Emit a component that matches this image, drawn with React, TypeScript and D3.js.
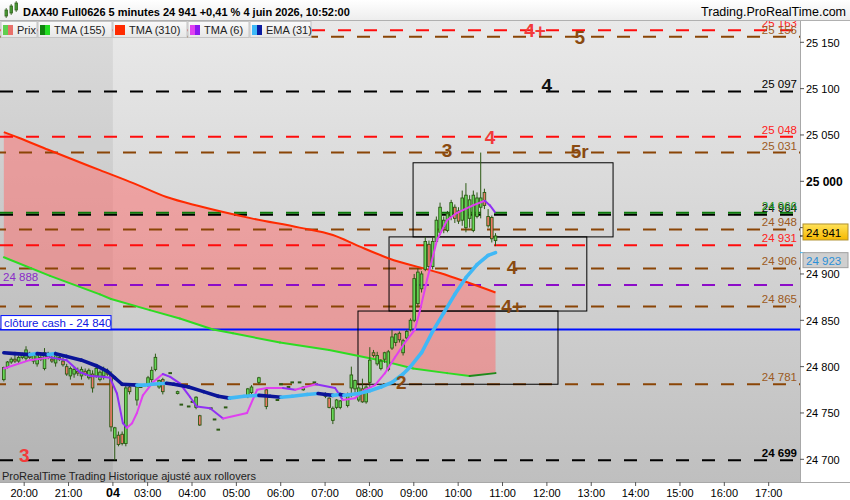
// DAX40 5 minute chart with moving averages, levels and zones (ProRealTime look)
import * as d3 from "d3"

const FONT = "'Liberation Sans', Arial, sans-serif"

// ---- axis data ----
const priceTicks = [24700, 24750, 24800, 24850, 24900, 24950, 25000, 25050, 25100, 25150]
// bar units (5 minute bars), 0 = 19:30 of the previous day
const timeTickBars = [6, 18, 30, 39.4, 51.4, 63.4, 75.4, 87.4, 99.4, 111.4, 123.4, 135.4, 147.4, 159.4, 171.4, 183.4, 195.4, 207.4]
const timeTickLabels = ["20:00", "21:00", "04", "03:00", "04:00", "05:00", "06:00", "07:00", "08:00", "09:00", "10:00", "11:00", "12:00", "13:00", "14:00", "15:00", "16:00", "17:00"]
const sessionStartBar = 30

// ---- candles [bar, open, high, low, close] ----
type Candle = [number, number, number, number, number]
const candlesEvening: Candle[] = [
  [0, 24786, 24800, 24784, 24799], [1, 24800, 24806, 24798, 24805], [2, 24805, 24810, 24803, 24808],
  [3, 24808, 24812, 24804, 24806], [4, 24806, 24812, 24804, 24810], [5, 24810, 24815, 24808, 24812],
  [6, 24809, 24822, 24806, 24818], [7, 24812, 24816, 24808, 24810], [8, 24806, 24814, 24803, 24812],
  [9, 24803, 24815, 24800, 24812], [10, 24810, 24814, 24806, 24808], [11, 24798, 24820, 24796, 24815],
  [12, 24812, 24816, 24808, 24810], [13, 24808, 24812, 24804, 24806], [14, 24804, 24816, 24800, 24812],
  [15, 24810, 24813, 24806, 24808], [16, 24806, 24810, 24800, 24802], [17, 24800, 24803, 24790, 24792],
  [18, 24790, 24800, 24786, 24798], [19, 24792, 24800, 24788, 24797], [20, 24795, 24799, 24790, 24793],
  [21, 24790, 24800, 24786, 24797], [22, 24795, 24798, 24790, 24792], [23, 24788, 24798, 24786, 24796],
  [24, 24792, 24796, 24772, 24777], [25, 24790, 24800, 24788, 24798], [26, 24786, 24796, 24784, 24794],
  [27, 24790, 24800, 24786, 24797], [28, 24795, 24798, 24790, 24792], [29, 24791, 24795, 24730, 24735],
]
const candlesNight: Candle[] = [
  [30, 24723, 24735, 24699, 24734], [31, 24726, 24730, 24714, 24716], [32, 24727, 24730, 24715, 24717],
  [33, 24717, 24782, 24714, 24777], [34, 24778, 24781, 24770, 24773], [36, 24764, 24781, 24758, 24778],
  [37, 24778, 24778, 24778, 24778], [39, 24780, 24790, 24778, 24788], [40, 24786, 24800, 24782, 24796],
  [41, 24797, 24814, 24795, 24810], [42, 24778, 24786, 24776, 24785], [43, 24786, 24788, 24770, 24773],
  [45, 24793, 24793, 24793, 24793], [47, 24771, 24774, 24770, 24773], [48, 24759, 24759, 24759, 24759],
  [50, 24757, 24757, 24757, 24757], [51, 24762, 24762, 24762, 24762], [52, 24756, 24768, 24754, 24767],
  [53, 24747, 24748, 24736, 24737], [56, 24755, 24755, 24755, 24755], [57, 24743, 24743, 24743, 24743],
  [58, 24732, 24732, 24732, 24732], [60, 24756, 24756, 24756, 24756], [66, 24769, 24777, 24766, 24776],
  [67, 24772, 24780, 24770, 24778], [69, 24783, 24789, 24781, 24788], [71, 24775, 24777, 24754, 24757],
  [74, 24764, 24764, 24764, 24764], [75, 24781, 24781, 24781, 24781], [77, 24778, 24778, 24778, 24778],
  [78, 24783, 24783, 24783, 24783], [80, 24783, 24783, 24783, 24783], [81, 24775, 24779, 24774, 24778],
  [84, 24783, 24783, 24783, 24783],
]
const candlesMorning: Candle[] = [
  [87, 24770, 24772, 24766, 24768], [88, 24766, 24767, 24755, 24756], [89, 24742, 24757, 24738, 24755],
  [90, 24756, 24765, 24754, 24764], [91, 24756, 24764, 24754, 24763], [93, 24758, 24772, 24756, 24770],
  [94, 24777, 24800, 24767, 24791], [95, 24776, 24786, 24772, 24785], [96, 24764, 24780, 24762, 24777],
  [97, 24776, 24787, 24761, 24762], [98, 24762, 24780, 24760, 24778], [99, 24783, 24821, 24778, 24807],
  [100, 24815, 24818, 24810, 24812], [101, 24803, 24816, 24801, 24812], [102, 24798, 24808, 24796, 24806],
  [103, 24808, 24816, 24804, 24815], [104, 24797, 24818, 24795, 24816], [105, 24820, 24840, 24818, 24832],
  [106, 24826, 24836, 24822, 24835], [107, 24836, 24838, 24826, 24829], [108, 24815, 24830, 24812, 24828],
  [109, 24831, 24840, 24829, 24838], [110, 24840, 24852, 24838, 24850], [111, 24850, 24900, 24848, 24895],
  [112, 24868, 24906, 24864, 24902], [113, 24884, 24903, 24880, 24900], [114, 24905, 24940, 24903, 24935],
  [115, 24932, 24936, 24905, 24908], [116, 24908, 24940, 24905, 24935], [117, 24935, 24962, 24932, 24958],
  [118, 24945, 24977, 24942, 24972], [119, 24950, 24962, 24944, 24958], [120, 24947, 24968, 24945, 24965],
  [121, 24962, 24980, 24958, 24977], [122, 24972, 24975, 24955, 24960], [123, 24968, 24972, 24954, 24957],
  [124, 24958, 24990, 24952, 24982], [125, 24950, 24998, 24945, 24985], [126, 24960, 24985, 24950, 24980],
  [127, 24947, 24990, 24945, 24985], [128, 24962, 24988, 24960, 24982], [129, 24972, 25031, 24960, 24982],
  [130, 24988, 24992, 24970, 24974], [131, 24962, 24970, 24950, 24952], [132, 24961, 24963, 24934, 24938],
  [133, 24936, 24944, 24930, 24941],
]

// ---- indicators [bar, value] ----
const tma310: [number, number][] = [
  [0, 25053], [4, 25047], [12, 25034], [26, 25012], [35, 24998], [44, 24983], [53, 24973],
  [67, 24960], [80, 24950], [89, 24942], [96, 24930], [104, 24917], [118, 24901], [133, 24880],
]
const tma155: [number, number][] = [
  [0, 24918], [12.5, 24898], [26, 24878], [29, 24873], [39.5, 24861], [47.6, 24852], [56.6, 24840],
  [62, 24836], [74.7, 24826], [88, 24818], [101.7, 24807], [110.7, 24798], [119.9, 24793], [126, 24790], [133, 24793],
]
const tma6: [number, number][] = [
  [0, 24798], [7, 24807], [12.5, 24810], [17, 24807], [20.6, 24794], [23.3, 24790], [26.8, 24789],
  [28.7, 24788], [30.6, 24771], [32.2, 24739], [33.3, 24734], [34.7, 24739], [36, 24750], [37.6, 24769],
  [40.3, 24783], [43, 24792], [45, 24789], [47.6, 24782], [50.4, 24767], [52.2, 24757], [55.8, 24755],
  [59.3, 24744], [65.8, 24750], [68.5, 24775], [71.2, 24777], [75.5, 24777], [78.8, 24775], [84.4, 24781],
  [89.6, 24777], [91.7, 24764], [95, 24766], [97.7, 24775], [100.4, 24780], [103.1, 24793], [105.8, 24810],
  [108.5, 24826], [111.2, 24840], [112.6, 24861], [114.5, 24894], [117.2, 24937], [119.9, 24958],
  [122.6, 24966], [126.9, 24974], [130.1, 24979], [131.5, 24974], [132.8, 24967],
]
const ema31: [number, number][] = [
  [0, 24815], [3, 24814], [7, 24813], [9, 24814], [12, 24813], [14, 24814], [17, 24811], [21, 24807],
  [25, 24801], [28, 24795], [30, 24788], [32, 24781], [36, 24780], [38, 24780], [40, 24781], [44, 24782],
  [46, 24781], [50, 24778], [54, 24773], [58, 24768], [61, 24766], [65, 24768], [69, 24769], [72, 24768],
  [75, 24767], [78, 24768], [82, 24770], [85, 24771], [87, 24770], [89, 24769], [91, 24770], [92, 24769],
  [94, 24770], [96, 24771], [99, 24774], [102, 24778], [105, 24783], [108, 24792], [110, 24800],
  [113, 24815], [116, 24838], [119, 24858], [122, 24878], [125, 24896], [128, 24910], [131, 24920], [133, 24923],
]

// ---- horizontal levels [price, kind] ----
const levels: [number, string][] = [
  [25163, "red"], [25156, "brown"], [25097, "black"], [25048, "red"], [25031, "brown"],
  [24964, "black"], [24966, "green"], [24948, "brown"], [24931, "red"], [24906, "brown"],
  [24888, "purple"], [24865, "brown"], [24781, "brown"], [24699, "black"],
]
const cashClose = 24840
// level tags [price, bar, text, kind]
const levelTags: [number, number, string, string][] = [
  [25163, 144.2, "4+", "red"], [25156, 156.3, "5", "brown"], [25104, 147.4, "4", "black"],
  [25048, 132, "4", "red"], [25034, 120.4, "3", "brown"], [25033, 156.3, "5r", "brown"],
  [24907, 138, "4", "brown"], [24865, 138, "4+", "brown"], [24783, 108, "2", "brown"], [24705, 6, "3", "red"],
]
// zones [barStart, barEnd, high, low]
const zones: [number, number, number, number][] = [
  [111.2, 165.3, 25020, 24940],
  [104.7, 158.2, 24940, 24860],
  [96.3, 150.4, 24860, 24781],
]
const lastPrice = 24941
const emaLast = 24923

const legendItems = ["Prix", "TMA (155)", "TMA (310)", "TMA (6)", "EMA (31)"]
const legendIcons = [["#5fcf4f", "#e8706a"], ["#11830f", "#22dd22"], ["#ff2a00", "#ff2a00"], ["#e040f0", "#8b18f0"], ["#3cb8f8", "#0a1aa0"]]

const LINE_COLOR: Record<string, string> = { red: "#ff0c0c", brown: "#8a4506", black: "#000000", green: "#0b7a0b", purple: "#8c0cc8" }
const TEXT_COLOR: Record<string, string> = { red: "#ff2020", brown: "#9c5a22", black: "#000000", green: "#1c9a1c", purple: "#8a2cc8" }
const TAG_COLOR: Record<string, string> = { red: "#f23a3a", brown: "#8a4a10", black: "#111111" }

const fmt = (v: number) => {
  const s = String(Math.round(v))
  return s.slice(0, s.length - 3) + " " + s.slice(-3)
}

export default function App() {
  const x = d3.scaleLinear().domain([0, 215.6]).range([2, 799])
  const y = d3.scaleLinear().domain([24700, 25150]).range([459.3, 42.3])
  const cx = (bar: number) => x(bar + 0.5)

  const candles = [...candlesEvening, ...candlesNight, ...candlesMorning]

  const smooth = d3.line<[number, number]>().x(d => cx(d[0])).y(d => y(d[1])).curve(d3.curveMonotoneX)
  const straight = d3.line<[number, number]>().x(d => cx(d[0])).y(d => y(d[1]))
  const band = straight([...tma310, ...[...tma155].reverse()]) + "Z"

  const segments = (pts: [number, number][], up: string, down: string, width: number, key: string) =>
    pts.slice(1).map((p, i) => {
      const q = pts[i]
      return (
        <line key={key + i} x1={cx(q[0])} y1={y(q[1])} x2={cx(p[0])} y2={y(p[1])}
          stroke={p[1] >= q[1] ? up : down} strokeWidth={width} strokeLinecap="round" />
      )
    })

  const bw = 1.3
  return (
    <div style={{ position: "absolute", left: 0, top: 0 }}>
      <svg width={850} height={500} style={{ display: "block", fontFamily: FONT }}>
        <defs>
          <linearGradient id="bg" x1="0" y1="0" x2="0" y2="1">
            <stop offset="0" stopColor="#e9e9e9" />
            <stop offset="1" stopColor="#bfbfbf" />
          </linearGradient>
          <linearGradient id="hdr" x1="0" y1="0" x2="0" y2="1">
            <stop offset="0" stopColor="#ffffff" />
            <stop offset="1" stopColor="#ededed" />
          </linearGradient>
          <linearGradient id="leg" x1="0" y1="0" x2="0" y2="1">
            <stop offset="0" stopColor="#fafafa" />
            <stop offset="1" stopColor="#e6e6e6" />
          </linearGradient>
          <linearGradient id="gold" x1="0" y1="0" x2="0" y2="1">
            <stop offset="0" stopColor="#ffe25a" />
            <stop offset="1" stopColor="#f6b800" />
          </linearGradient>
          <clipPath id="plot"><rect x={0} y={21} width={800} height={461} /></clipPath>
        </defs>

        <rect x={0} y={0} width={850} height={500} fill="#ffffff" />
        <rect x={0} y={21} width={800} height={461} fill="url(#bg)" />
        <rect x={0} y={21} width={x(sessionStartBar)} height={461} fill="rgba(0,0,0,0.06)" />

        <g clipPath="url(#plot)">
          {/* band between the two long averages */}
          <path d={band} fill="rgba(255,105,105,0.5)" />

          {/* dashed levels */}
          {levels.map(([v, k], i) => (
            <line key={"lv" + i} x1={0} x2={800} y1={y(v)} y2={y(v)} stroke={LINE_COLOR[k]} strokeWidth={2}
              strokeDasharray="13,13" strokeDashoffset={k === "brown" ? 7 : 0} />
          ))}
          <line x1={0} x2={800} y1={y(cashClose)} y2={y(cashClose)} stroke="#0010ff" strokeWidth={2} />

          {/* zones */}
          {zones.map(([b0, b1, hi, lo], i) => (
            <rect key={"z" + i} x={x(b0)} y={y(hi)} width={x(b1) - x(b0)} height={y(lo) - y(hi)}
              fill="none" stroke="#000" strokeWidth={1} />
          ))}

          {/* long averages */}
          <path d={smooth(tma310) ?? ""} fill="none" stroke="#ff2a00" strokeWidth={2} />
          {segments(tma155, "#1e8a1a", "#2ddc22", 2, "g")}

          {/* candles */}
          {candles.map(([b, o, h, l, c]) => {
            const px = cx(b)
            if (o === c && h === l) {
              return <line key={"c" + b} x1={px - 1.8} x2={px + 1.8} y1={y(c)} y2={y(c)} stroke="#2c5a14" strokeWidth={2} />
            }
            const top = y(Math.max(o, c))
            const bot = y(Math.min(o, c))
            return (
              <g key={"c" + b}>
                <line x1={px} x2={px} y1={y(h)} y2={y(l)} stroke="#2c5a14" strokeWidth={1} />
                <rect x={px - bw} y={top} width={bw * 2} height={Math.max(bot - top, 1.5)}
                  fill={c >= o ? "#66d856" : "#ee7a68"} stroke="#2c5a14" strokeWidth={0.9} />
              </g>
            )
          })}

          {/* fast averages */}
          {segments(tma6, "#e040f0", "#9030f4", 2, "m")}
          {segments(ema31, "#40b8f6", "#0a1498", 3.6, "e")}

          {/* level tags */}
          {levelTags.map(([v, b, t, k], i) => (
            <text key={"t" + i} x={x(b)} y={y(v) + 7} textAnchor="middle" fontSize={19} fontWeight="bold"
              fill={TAG_COLOR[k]}>{t}</text>
          ))}

          {/* level prices */}
          {levels.filter(([, k]) => k !== "purple").map(([v, k], i) => (
            <text key={"lp" + i} x={797} y={y(v) - 3} textAnchor="end" fontSize={11.5}
              fontWeight={v === 24699 ? "bold" : "normal"} fill={TEXT_COLOR[k]}>{fmt(v)}</text>
          ))}
          {levels.filter(([, k]) => k === "purple").map(([v, k], i) => (
            <text key={"lq" + i} x={3} y={y(v) - 4} fontSize={11.5} fill={TEXT_COLOR[k]}>{fmt(v)}</text>
          ))}

          {/* cash close tag */}
          <rect x={1} y={y(cashClose) - 14} width={110} height={14} fill="#ffffff" stroke="#0010ff" strokeWidth={1} />
          <text x={4} y={y(cashClose) - 3} fontSize={11.5} fill="#1018e0">{"clôture cash -  " + fmt(cashClose)}</text>

          <text x={2} y={480} fontSize={11} fill="#222">ProRealTime Trading  Historique ajusté aux rollovers</text>
        </g>

        {/* header */}
        <rect x={0} y={0} width={850} height={20.5} fill="url(#hdr)" />
        <line x1={0} x2={850} y1={20.5} y2={20.5} stroke="#b0b0b0" />
        <g stroke="#2c5a14" strokeWidth={0.8}>
          <rect x={5} y={10} width={2.5} height={6} fill="#66d856" />
          <rect x={10} y={6} width={2.5} height={7} fill="#66d856" />
          <rect x={15} y={3} width={2.5} height={7} fill="#66d856" />
          <line x1={6.2} x2={6.2} y1={8} y2={18} />
          <line x1={11.2} x2={11.2} y1={4} y2={15} />
          <line x1={16.2} x2={16.2} y1={1} y2={12} />
        </g>
        <text x={23} y={16} fontSize={11} fontWeight="bold" fill="#000">DAX40 Full0626 5 minutes 24 941 +0,41 % 4 juin 2026, 10:52:00</text>
        <text x={846} y={16} textAnchor="end" fontSize={12.5} fill="#000">Trading.ProRealTime.com</text>

        {/* legend */}
        {legendItems.map((name, i) => {
          const starts = [1, 38, 113, 188, 250]
          const widths = [36, 74, 74, 61, 61]
          const bx = starts[i]
          return (
            <g key={"lg" + i}>
              <rect x={bx} y={21.5} width={widths[i]} height={16} fill="url(#leg)" stroke="#c4c4c4" />
              <rect x={bx + 2} y={25} width={5} height={10} fill={legendIcons[i][0]} />
              <rect x={bx + 7} y={25} width={5} height={10} fill={legendIcons[i][1]} />
              <text x={bx + 16} y={34} fontSize={11} fill="#222">{name}</text>
            </g>
          )
        })}

        {/* price axis */}
        <line x1={800.5} x2={800.5} y1={21} y2={482} stroke="#a8a8a8" />
        {priceTicks.map(v => (
          <g key={"pt" + v}>
            <line x1={800} x2={804} y1={y(v)} y2={y(v)} stroke="#555" />
            <text x={806} y={y(v) + 4.5} fontSize={v === 25000 ? 12 : 11} fontWeight={v === 25000 ? "bold" : "normal"} fill="#000">{fmt(v)}</text>
          </g>
        ))}
        <line x1={800} x2={805} y1={y(lastPrice)} y2={y(lastPrice)} stroke="#000" />
        <rect x={803} y={y(lastPrice) - 12} width={45} height={16} fill="url(#gold)" stroke="#b09030" />
        <text x={806} y={y(lastPrice) + 1} fontSize={11.5} fill="#000">{fmt(lastPrice)}</text>
        <line x1={800} x2={805} y1={y(emaLast)} y2={y(emaLast)} stroke="#40b8f6" />
        <rect x={803} y={y(emaLast)} width={45} height={15} fill="#cfcfcf" stroke="#a0a0a0" />
        <text x={806} y={y(emaLast) + 12} fontSize={11.5} fill="#2a90d8">{fmt(emaLast)}</text>

        {/* time axis */}
        <line x1={0} x2={850} y1={482.5} y2={482.5} stroke="#a8a8a8" />
        {timeTickBars.map((b, i) => (
          <g key={"tt" + i}>
            <line x1={x(b)} x2={x(b)} y1={482} y2={486} stroke="#555" />
            <text x={x(b)} y={497} textAnchor="middle" fontSize={timeTickLabels[i] === "04" ? 12.5 : 11}
              fontWeight={timeTickLabels[i] === "04" ? "bold" : "normal"} fill="#000">{timeTickLabels[i]}</text>
          </g>
        ))}
      </svg>
    </div>
  )
}
